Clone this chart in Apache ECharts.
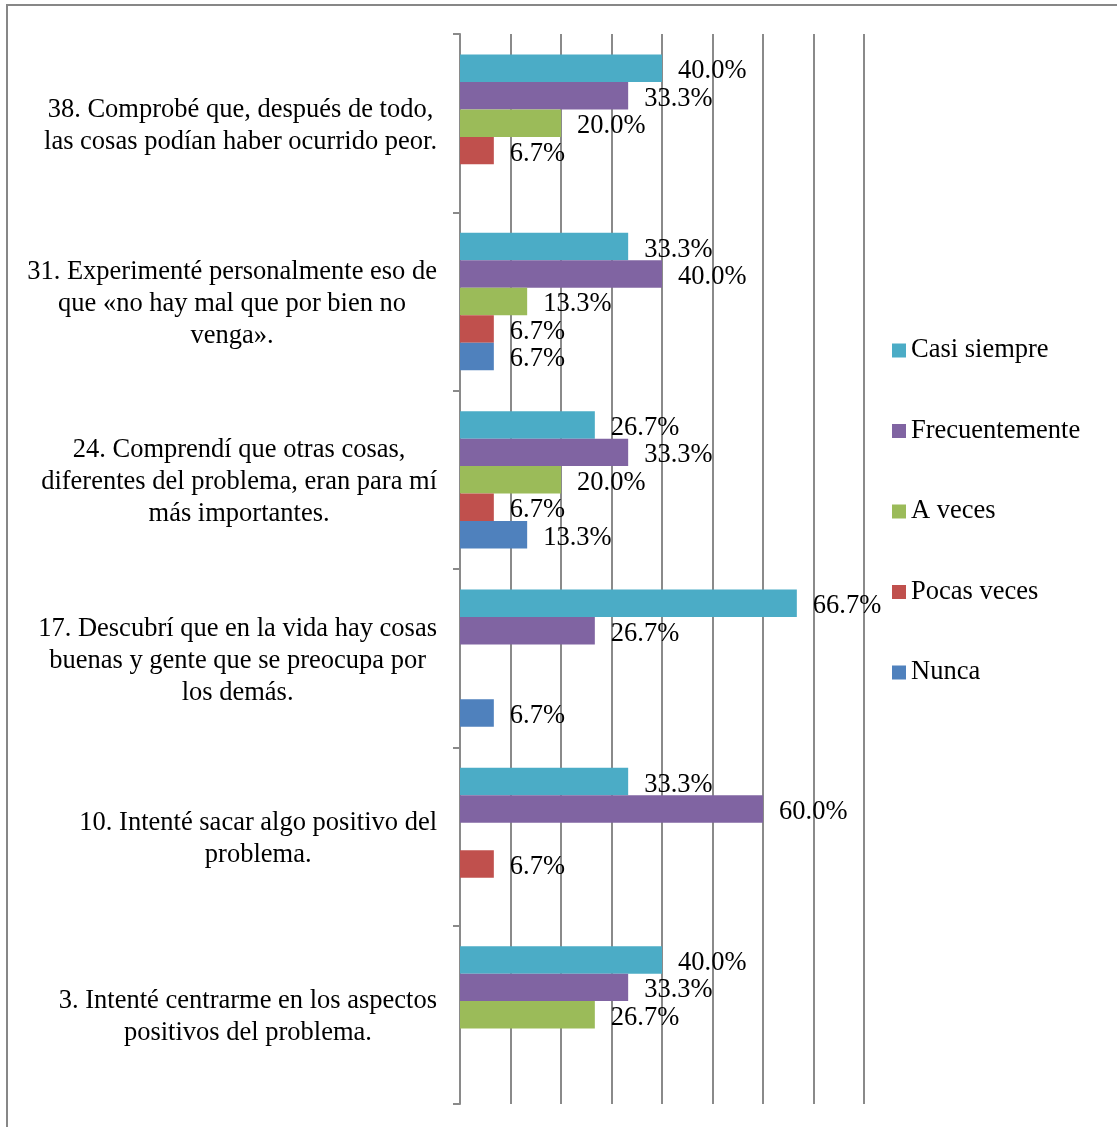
<!DOCTYPE html>
<html>
<head>
<meta charset="utf-8">
<title>Estrategias de reevaluación positiva</title>
<script src="https://cdn.jsdelivr.net/npm/echarts@6/dist/echarts.min.js"></script>
<style>
  html, body { margin: 0; padding: 0; background: #ffffff; overflow: hidden; }
  #chart { width: 1117px; height: 1127px; }
</style>
</head>
<body>
<div id="chart"></div>
<script>
// Items, listed top to bottom
const categories = [
  "38. Comprobé que, después de todo,\nlas cosas podían haber ocurrido peor.",
  "31. Experimenté personalmente eso de\nque «no hay mal que por bien no\nvenga».",
  "24. Comprendí que otras cosas,\ndiferentes del problema, eran para mí\nmás importantes.",
  "17. Descubrí que en la vida hay cosas\nbuenas y gente que se preocupa por\nlos demás.",
  "10. Intenté sacar algo positivo del\nproblema.",
  "3. Intenté centrarme en los aspectos\npositivos del problema."
];

const seriesNames = ["Casi siempre", "Frecuentemente", "A veces", "Pocas veces", "Nunca"];

// Percentages per item (null = no answers)
const casiSiempre    = [40.0, 33.3, 26.7, 66.7, 33.3, 40.0];
const frecuentemente = [33.3, 40.0, 33.3, 26.7, 60.0, 33.3];
const aVeces         = [20.0, 13.3, 20.0, null, null, 26.7];
const pocasVeces     = [6.7, 6.7, 6.7, null, 6.7, null];
const nunca          = [null, 6.7, 13.3, 6.7, null, null];

const seriesValues = [casiSiempre, frecuentemente, aVeces, pocasVeces, nunca];
const seriesColors = ["#4BACC6", "#8064A2", "#9BBB59", "#C0504D", "#4F81BD"];

const FONT = "'Liberation Serif', 'Times New Roman', serif";
const GRID_COLOR = "#8a8a8a";

const chart = echarts.init(document.getElementById('chart'), null, { renderer: 'canvas' });

const series = seriesNames.map((name, i) => ({
  name: name,
  type: 'bar',
  data: seriesValues[i],
  barGap: '0%',
  barCategoryGap: '23%',
  itemStyle: { color: seriesColors[i] },
  label: {
    show: true,
    position: 'right',
    distance: 16,
    offset: [0, 3],
    color: '#000',
    fontFamily: FONT,
    fontSize: 26.5,
    formatter: p => (p.value == null ? '' : Number(p.value).toFixed(1) + '%')
  },
  emphasis: { disabled: true },
  animation: false
}));

chart.setOption({
  animation: false,
  backgroundColor: '#ffffff',
  graphic: [{
    type: 'rect',
    shape: { x: 7, y: 5, width: 1200, height: 1200 },
    style: { fill: 'none', stroke: '#878787', lineWidth: 2 },
    silent: true,
    z: -1
  }],
  legend: {
    data: seriesNames,
    orient: 'vertical',
    left: 892,
    top: 337,
    padding: 0,
    itemWidth: 14,
    itemHeight: 14,
    itemGap: 53.5,
    icon: 'rect',
    textStyle: { fontFamily: FONT, fontSize: 26.5, color: '#000' }
  },
  grid: { left: 460, top: 34, width: 404, height: 1070, containLabel: false },
  xAxis: {
    type: 'value',
    min: 0,
    max: 80,
    interval: 10,
    axisLabel: { show: false },
    axisLine: { show: false },
    axisTick: { show: false },
    splitLine: { show: true, lineStyle: { color: GRID_COLOR, width: 2 } }
  },
  yAxis: {
    type: 'category',
    inverse: true,
    data: categories,
    axisLine: { show: true, lineStyle: { color: GRID_COLOR, width: 2 } },
    axisTick: { show: true, length: 7, lineStyle: { color: GRID_COLOR, width: 2 } },
    axisLabel: {
      margin: 23,
      align: 'right',
      padding: [5, 0, 0, 0],
      formatter: v => v.split('\n').map(line => '{c|' + line + '}').join('\n'),
      rich: {
        c: { align: 'center', fontFamily: FONT, fontSize: 26.5, lineHeight: 32, color: '#000' }
      }
    }
  },
  series: series
});
</script>
</body>
</html>
